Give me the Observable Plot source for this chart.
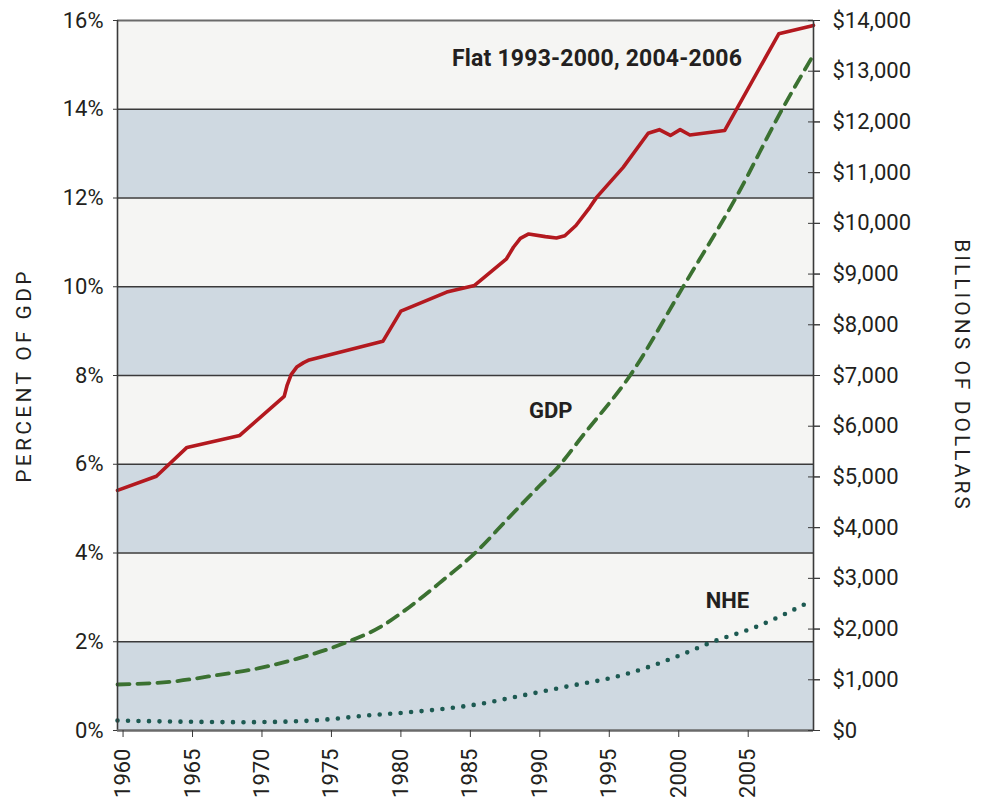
<!DOCTYPE html>
<html>
<head>
<meta charset="utf-8">
<script src="https://cdn.jsdelivr.net/npm/d3@7"></script>
<script src="https://cdn.jsdelivr.net/npm/@observablehq/plot@0.6"></script>
<style>
  html, body { margin: 0; padding: 0; background: #fff; overflow: hidden; }
  #chart { position: relative; width: 983px; height: 797px; }
</style>
</head>
<body>
<div id="chart"></div>
<script>
// ---- Data ----
// NHE as percent of GDP (left axis)
const shareYears = [1959.6, 1962.4, 1964.6, 1968.4, 1971.6, 1971.8, 1972.1, 1972.5, 1973.0, 1973.4, 1978.7, 1980.0, 1983.3, 1985.3, 1987.6, 1988.1, 1988.6, 1989.2, 1990.4, 1991.2, 1991.8, 1992.6, 1993.6, 1994.1, 1996.0, 1997.8, 1998.6, 1999.4, 2000.1, 2000.8, 2003.3, 2007.2, 2009.7];
const sharePct   = [5.41, 5.73, 6.38, 6.65, 7.53, 7.77, 8.02, 8.19, 8.29, 8.35, 8.77, 9.45, 9.88, 10.03, 10.63, 10.89, 11.09, 11.19, 11.13, 11.10, 11.15, 11.38, 11.79, 12.02, 12.69, 13.46, 13.54, 13.41, 13.54, 13.42, 13.52, 15.70, 15.89];

// GDP, billions of dollars (right axis)
const gdpYears = [1959.6, 1963.8, 1966.9, 1969.8, 1972.5, 1975.8, 1978.5, 1980.6, 1983.0, 1985.4, 1987.8, 1990.0, 1991.3, 1993.1, 1996.5, 2000.3, 2004.2, 2007.4, 2009.6];
const gdpBillions = [907, 972, 1098, 1229, 1413, 1709, 2038, 2432, 2958, 3516, 4206, 4831, 5192, 5817, 7001, 8742, 10550, 12226, 13277];

// NHE, billions of dollars (right axis)
const nheYears = [1959.6, 1964.0, 1968.8, 1972.7, 1974.9, 1977.3, 1980.1, 1984.8, 1986.4, 1987.8, 1991.6, 1996.1, 1999.7, 2002.5, 2005.4, 2009.6];
const nheBillions = [197, 175, 164, 184, 223, 290, 349, 487, 558, 638, 848, 1104, 1440, 1755, 2025, 2564];

// Axes / ticks
const xDomain = [1959.6, 2009.7];
const yearTicks = [1960, 1965, 1970, 1975, 1980, 1985, 1990, 1995, 2000, 2005];
const pctTicks = [0, 2, 4, 6, 8, 10, 12, 14, 16];
const dollarTicks = [0, 1000, 2000, 3000, 4000, 5000, 6000, 7000, 8000, 9000, 10000, 11000, 12000, 13000, 14000];
const dollarMax = 14000;
const pctMax = 16;

// Annotations
const flatLabel = {t: "Flat 1993-2000, 2004-2006", year: 2004.56, pct: 15.14};
const seriesLabels = [
  {t: "GDP", year: 1990.78, pct: 7.21},
  {t: "NHE", year: 2003.5, pct: 2.93}
];

// ---- Build tables ----
const toPct = v => v * pctMax / dollarMax;
const share = shareYears.map((y, i) => ({year: y, v: sharePct[i]}));
const gdp = gdpYears.map((y, i) => ({year: y, v: toPct(gdpBillions[i])}));
const nhe = nheYears.map((y, i) => ({year: y, v: toPct(nheBillions[i])}));
const bands = pctTicks.slice(0, -1).map((p, i) => ({lo: p, hi: pctTicks[i + 1], k: i % 2}));
const fmt = d3.format(",");

const font = "Roboto, 'Noto Sans', sans-serif";
const ink = "#231f20";

const plot = Plot.plot({
  width: 983,
  height: 810,
  marginTop: 20,
  marginBottom: 80,
  marginLeft: 117,
  marginRight: 170,
  style: {fontFamily: font, fontSize: "22px", color: ink, background: "transparent", overflow: "visible"},
  x: {domain: xDomain, label: null},
  y: {domain: [0, pctMax], label: null},
  marks: [
    Plot.rect(bands, {x1: () => xDomain[0], x2: () => xDomain[1], y1: "lo", y2: "hi", fill: d => d.k ? "#f5f5f3" : "#cfd9e1"}),
    Plot.ruleY(pctTicks.slice(1, -1), {stroke: "#3a3a3a", strokeWidth: 1.6}),
    Plot.ruleY([pctMax], {stroke: "#6a6a6a", strokeWidth: 2}),
    Plot.line(nhe, {x: "year", y: "v", stroke: "#1d5a52", strokeWidth: 4.6, strokeDasharray: "0 10.5", strokeLinecap: "round", curve: "monotone-x"}),
    Plot.line(gdp, {x: "year", y: "v", stroke: "#3b7131", strokeWidth: 3.8, strokeDasharray: "12 8", curve: "monotone-x"}),
    Plot.line(share, {x: "year", y: "v", stroke: "#b3191f", strokeWidth: 3.6, strokeLinejoin: "round", curve: "linear"}),
    Plot.ruleX(xDomain, {stroke: "#3a3a3a", strokeWidth: 1.6}),
    Plot.ruleY([0], {stroke: "#6a6a6a", strokeWidth: 2.5}),
    Plot.axisY({anchor: "left", ticks: pctTicks, tickFormat: d => d + "%", tickSize: 4, tickPadding: 10, stroke: "#3a3a3a", label: null}),
    Plot.axisY({anchor: "right", ticks: dollarTicks.map(toPct), tickSize: 12, dx: -6, tickFormat: () => "", stroke: "#3a3a3a", label: null}),
    Plot.axisY({anchor: "right", ticks: dollarTicks.map(toPct), tickSize: 6, tickPadding: 13, tickFormat: (d, i) => "$" + fmt(dollarTicks[i]), stroke: "#3a3a3a", label: null}),
    Plot.axisX({ticks: yearTicks, tickFormat: d => String(d), tickRotate: -90, tickSize: 7, tickPadding: 11, stroke: "#3a3a3a", label: null}),
    Plot.text([flatLabel], {x: "year", y: "pct", text: "t", textAnchor: "end", fontWeight: "bold", fontSize: 23, fill: ink}),
    Plot.text(seriesLabels, {x: "year", y: "pct", text: "t", textAnchor: "middle", fontWeight: "bold", fontSize: 22, fill: ink}),
    Plot.text(["PERCENT OF GDP"], {frameAnchor: "left", dx: -93, rotate: -90, textAnchor: "middle", fontSize: 21, fill: ink}),
    Plot.text(["BILLIONS OF DOLLARS"], {frameAnchor: "right", dx: 148, rotate: 90, textAnchor: "middle", fontSize: 21, fill: ink})
  ]
});

d3.select(plot).selectAll("text").each(function () {
  const t = this.textContent;
  if (t === "PERCENT OF GDP") d3.select(this).attr("letter-spacing", "3.3px");
  if (t === "BILLIONS OF DOLLARS") d3.select(this).attr("letter-spacing", "3px");
  if (t === flatLabel.t) d3.select(this).attr("letter-spacing", "0.2px");
});

document.getElementById("chart").appendChild(plot);
</script>
</body>
</html>
